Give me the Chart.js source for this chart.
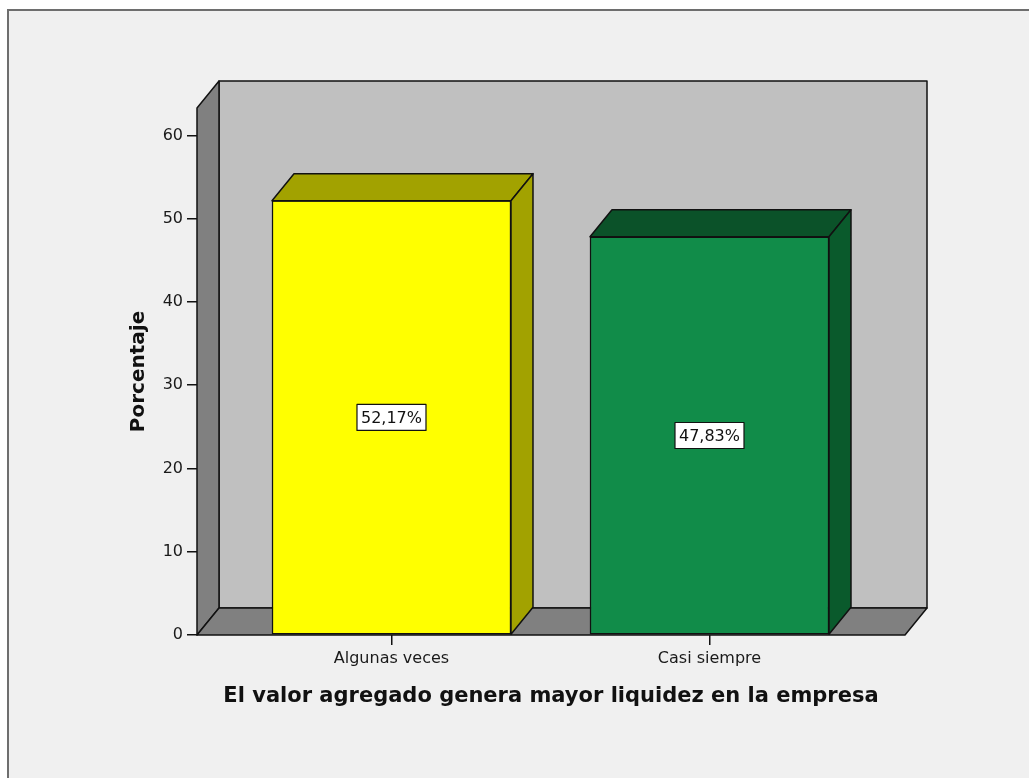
<!DOCTYPE html>
<html>
<head>
<meta charset="utf-8">
<script src="https://cdn.jsdelivr.net/npm/chart.js@4"></script>
<style>
  html, body { margin: 0; padding: 0; background: #ffffff; }
  canvas { display: block; }
</style>
</head>
<body>
<canvas id="liquidezChart" width="1029" height="778"></canvas>
<script>
const categories = ['Algunas veces', 'Casi siempre'];
const porcentajes = [52.17, 47.83];
const yTicks = [0, 10, 20, 30, 40, 50, 60];
const frontColors = ['#ffff00', '#118c49'];
const topColors = ['#a2a200', '#0b5229'];
const sideColors = ['#a2a200', '#0a5a2c'];

// depth of the fake 3d box
const dx = 22, dy = -27;

function poly(ctx, pts, fill) {
  ctx.beginPath();
  ctx.moveTo(pts[0][0], pts[0][1]);
  for (let i = 1; i < pts.length; i++) ctx.lineTo(pts[i][0], pts[i][1]);
  ctx.closePath();
  ctx.fillStyle = fill;
  ctx.fill();
  ctx.stroke();
}

const box3d = {
  id: 'box3d',
  beforeDraw(chart) {
    const {ctx, chartArea: a} = chart;
    ctx.save();
    ctx.fillStyle = '#ffffff';
    ctx.fillRect(0, 0, chart.width, chart.height);
    ctx.fillStyle = '#f0f0f0';
    ctx.fillRect(9, 11, chart.width, chart.height);
    ctx.strokeStyle = '#6e6e6e';
    ctx.lineWidth = 2;
    ctx.beginPath();
    ctx.moveTo(8, chart.height + 2);
    ctx.lineTo(8, 10);
    ctx.lineTo(chart.width + 2, 10);
    ctx.stroke();

    ctx.strokeStyle = '#111111';
    ctx.lineWidth = 1.5;
    ctx.lineJoin = 'round';
    // back wall
    poly(ctx, [[a.left + dx, a.top + dy], [a.right + dx, a.top + dy],
               [a.right + dx, a.bottom + dy], [a.left + dx, a.bottom + dy]], '#c0c0c0');
    // left wall
    poly(ctx, [[a.left, a.top], [a.left + dx, a.top + dy],
               [a.left + dx, a.bottom + dy], [a.left, a.bottom]], '#808080');
    // floor
    poly(ctx, [[a.left, a.bottom], [a.right, a.bottom],
               [a.right + dx, a.bottom + dy], [a.left + dx, a.bottom + dy]], '#808080');
    ctx.restore();
  },
  afterDatasetsDraw(chart) {
    const {ctx} = chart;
    const meta = chart.getDatasetMeta(0);
    ctx.save();
    ctx.strokeStyle = '#111111';
    ctx.lineWidth = 1.5;
    ctx.lineJoin = 'round';
    meta.data.forEach((bar, i) => {
      const {x, y, base, width} = bar.getProps(['x', 'y', 'base', 'width'], true);
      const l = x - width / 2, r = x + width / 2;
      poly(ctx, [[l, y], [l + dx, y + dy], [r + dx, y + dy], [r, y]], topColors[i]);
      poly(ctx, [[r, y], [r + dx, y + dy], [r + dx, base + dy], [r, base]], sideColors[i]);

      // value label box
      const txt = porcentajes[i].toFixed(2).replace('.', ',') + '%';
      ctx.font = '16px "DejaVu Sans"';
      const w = ctx.measureText(txt).width + 8;
      const h = 26;
      const cy = (y + base) / 2;
      ctx.fillStyle = '#ffffff';
      ctx.lineWidth = 1.2;
      ctx.fillRect(x - w / 2, cy - h / 2, w, h);
      ctx.strokeRect(x - w / 2, cy - h / 2, w, h);
      ctx.fillStyle = '#111111';
      ctx.textAlign = 'center';
      ctx.textBaseline = 'middle';
      ctx.fillText(txt, x, cy + 1);
      ctx.lineWidth = 1.5;
    });
    ctx.restore();
  }
};

const chart = new Chart(document.getElementById('liquidezChart'), {
  type: 'bar',
  data: {
    datasets: [{
      data: porcentajes.map((v, i) => ({x: i, y: v})),
      backgroundColor: frontColors,
      borderColor: '#111111',
      borderWidth: 1.5,
      borderSkipped: false,
      barThickness: 239
    }]
  },
  options: {
    responsive: false,
    animation: false,
    events: [],
    layout: { padding: { left: 123, right: 124, top: 108, bottom: 65 } },
    plugins: { legend: { display: false }, tooltip: { enabled: false } },
    scales: {
      x: {
        type: 'linear',
        offset: false,
        min: -0.6116,
        max: 1.6148,
        afterBuildTicks: scale => { scale.ticks = categories.map((c, i) => ({value: i})); },
        afterFit: scale => { scale.height = 78; },
        ticks: {
          callback: v => categories[v],
          font: { family: 'DejaVu Sans', size: 16 },
          color: '#1a1a1a',
          padding: 4,
          maxRotation: 0,
          autoSkip: false
        },
        grid: { offset: false, drawOnChartArea: false, drawTicks: true, tickLength: 10, color: '#111111', lineWidth: 1.5 },
        border: { display: false },
        title: {
          display: true,
          text: 'El valor agregado genera mayor liquidez en la empresa',
          font: { family: 'DejaVu Sans', size: 21, weight: 'bold' },
          color: '#111111'
        }
      },
      y: {
        min: 0,
        max: 63.3,
        afterBuildTicks: scale => { scale.ticks = yTicks.map(v => ({value: v})); },
        afterFit: scale => { scale.width = 74; },
        ticks: {
          font: { family: 'DejaVu Sans', size: 16 },
          color: '#1a1a1a',
          padding: 4
        },
        grid: { drawOnChartArea: false, drawTicks: true, tickLength: 10, color: '#111111', lineWidth: 1.5 },
        border: { display: false },
        title: {
          display: true,
          text: 'Porcentaje',
          font: { family: 'DejaVu Sans', size: 20, weight: 'bold' },
          color: '#111111'
        }
      }
    }
  },
  plugins: [box3d]
});
</script>
</body>
</html>
